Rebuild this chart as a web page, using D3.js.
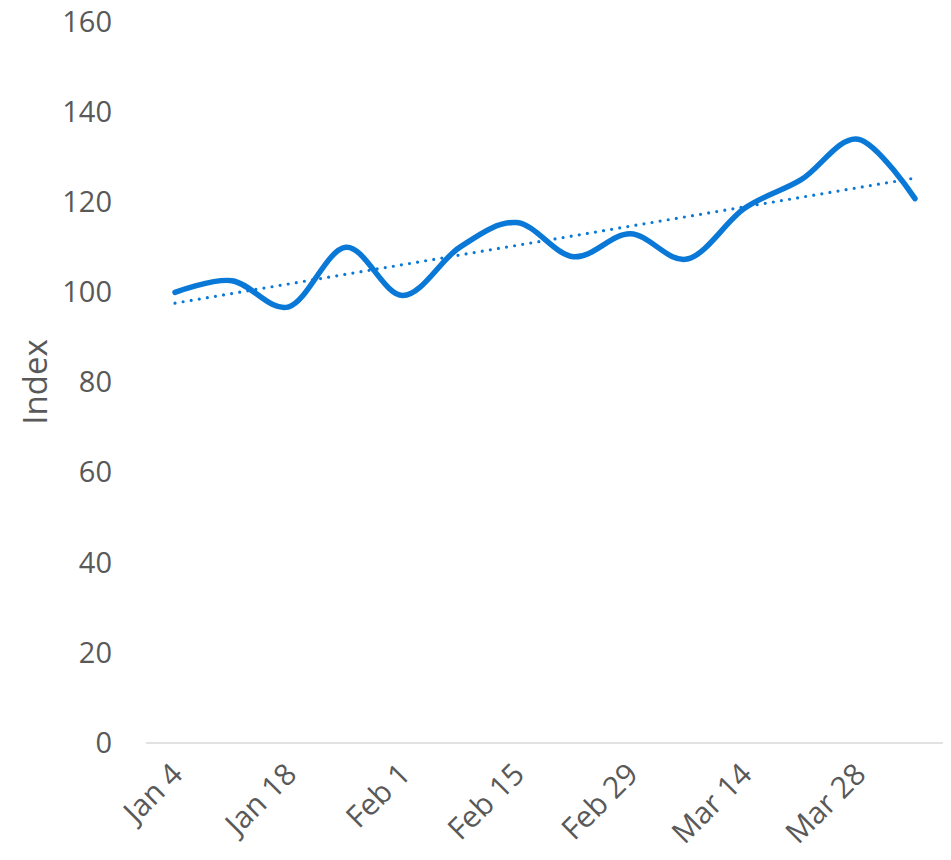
<!DOCTYPE html>
<html>
<head>
<meta charset="utf-8">
<script src="https://cdn.jsdelivr.net/npm/d3@7"></script>
<style>
  body { margin: 0; background: #fff; }
  text { font-family: "Open Sans", sans-serif; fill: #595959; }
</style>
</head>
<body>
<svg id="chart"></svg>
<script>
// weekly index values, 2016
var weeks = ["2016-01-04", "2016-01-11", "2016-01-18", "2016-01-25", "2016-02-01",
    "2016-02-08", "2016-02-15", "2016-02-22", "2016-02-29", "2016-03-07",
    "2016-03-14", "2016-03-21", "2016-03-28", "2016-04-04"]
var indexValues = [100, 102.6, 96.8, 110, 99.3, 110, 115.5, 107.9, 113, 107.4, 118.6, 125, 134, 120.8]
var tickWeeks = ["2016-01-04", "2016-01-18", "2016-02-01", "2016-02-15", "2016-02-29", "2016-03-14", "2016-03-28"]
var yTicks = [0, 20, 40, 60, 80, 100, 120, 140, 160]

var parseDay = d3.timeParse("%Y-%m-%d")
var fmt = d3.timeFormat("%b %-d")

var screen = { width: 951, height: 860 }
var blue = "#0a78d6"

var svg = d3.select("#chart")
    .attr("width", screen.width)
    .attr("height", screen.height)

var points = weeks.map(function (w, i) {
    return { date: parseDay(w), value: indexValues[i] }
})

var xScale = d3.scaleTime()
    .domain([parseDay(weeks[0]), parseDay(weeks[weeks.length - 1])])
    .range([175, 915])

var yScale = d3.scaleLinear()
    .domain([0, 160])
    .range([743, 22])

// baseline
svg.append("line")
    .attr("x1", 146).attr("x2", 943)
    .attr("y1", yScale(0)).attr("y2", yScale(0))
    .attr("stroke", "#d9d9d9")
    .attr("stroke-width", 1.5)

// y axis labels (no axis line)
var yAxis = d3.axisLeft(yScale)
    .tickValues(yTicks)
    .tickSize(0)
    .tickPadding(0)
var yg = svg.append("g")
    .attr("transform", "translate(112,0)")
    .call(yAxis)
yg.select(".domain").remove()
yg.selectAll("text")
    .attr("font-size", 29)
    .attr("font-family", null)
    .attr("fill", null)

// x axis labels, rotated
var xAxis = d3.axisBottom(xScale)
    .tickValues(tickWeeks.map(parseDay))
    .tickFormat(fmt)
    .tickSize(0)
var xg = svg.append("g")
    .attr("transform", "translate(0," + yScale(0) + ")")
    .call(xAxis)
xg.select(".domain").remove()
xg.selectAll("text")
    .attr("font-size", 30)
    .attr("font-family", null)
    .attr("fill", null)
    .attr("text-anchor", "end")
    .attr("dy", null)
    .attr("y", 0)
    .attr("transform", "translate(9,33) rotate(-45)")

// axis title
svg.append("text")
    .text("Index")
    .attr("font-size", 33)
    .attr("text-anchor", "middle")
    .attr("transform", "translate(47,382) rotate(-90)")

// linear trend line
var n = points.length
var xi = d3.range(n)
var mx = d3.mean(xi), my = d3.mean(indexValues)
var slope = d3.sum(xi, function (x, i) { return (x - mx) * (indexValues[i] - my) }) /
    d3.sum(xi, function (x) { return (x - mx) * (x - mx) })
var intercept = my - slope * mx
var trend = [
    { date: points[0].date, value: intercept },
    { date: points[n - 1].date, value: intercept + slope * (n - 1) }
]

var lineGen = d3.line()
    .x(function (d) { return xScale(d.date) })
    .y(function (d) { return yScale(d.value) })

svg.append("path")
    .datum(trend)
    .attr("d", lineGen)
    .attr("fill", "none")
    .attr("stroke", blue)
    .attr("stroke-width", 3.2)
    .attr("stroke-linecap", "round")
    .attr("stroke-dasharray", "0,8.2")

svg.append("path")
    .datum(points)
    .attr("d", lineGen.curve(d3.curveCardinal.tension(0)))
    .attr("fill", "none")
    .attr("stroke", blue)
    .attr("stroke-width", 5.5)
    .attr("stroke-linecap", "round")
    .attr("stroke-linejoin", "round")
</script>
</body>
</html>
